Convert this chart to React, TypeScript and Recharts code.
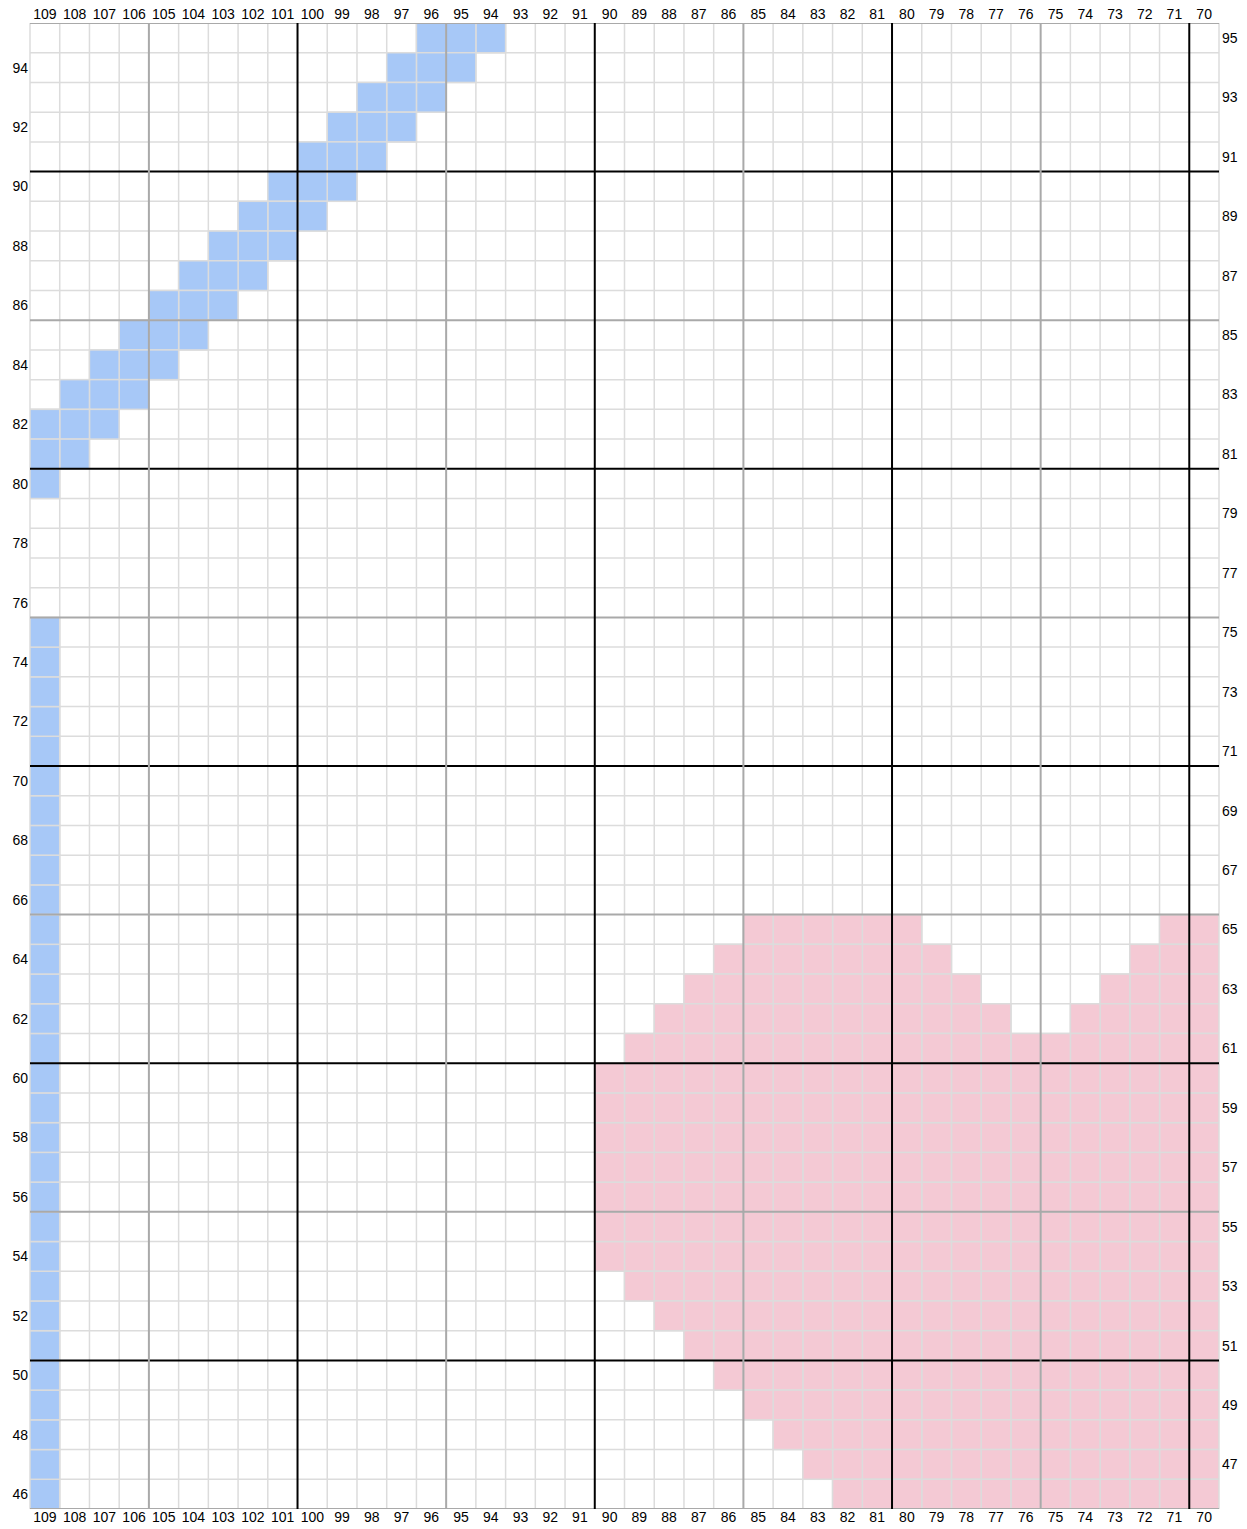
import React from 'react';
import { ScatterChart, Scatter, XAxis, YAxis, ReferenceLine } from 'recharts';

const BLUE = '#a7c8f7';
const PINK = '#f4c9d4';
const LIGHT = '#dcdcdc';
const MID = '#a9a9a9';
const DARK = '#000000';

const W = 1247;
const H = 1529;
const LEFT = 30;
const RIGHT = 28;
const TOP = 23;
const BOTTOM = 20;

const columns = [109, 108, 107, 106, 105, 104, 103, 102, 101, 100, 99, 98, 97, 96, 95, 94, 93, 92, 91, 90, 89, 88, 87, 86, 85, 84, 83, 82, 81, 80, 79, 78, 77, 76, 75, 74, 73, 72, 71, 70];
const evenRows = [94, 92, 90, 88, 86, 84, 82, 80, 78, 76, 74, 72, 70, 68, 66, 64, 62, 60, 58, 56, 54, 52, 50, 48, 46];
const oddRows = [95, 93, 91, 89, 87, 85, 83, 81, 79, 77, 75, 73, 71, 69, 67, 65, 63, 61, 59, 57, 55, 53, 51, 49, 47];

// [rowFrom, rowTo, colFrom, colTo]
const blueBlocks = [
  [95, 95, 96, 94], [94, 94, 97, 95], [93, 93, 98, 96], [92, 92, 99, 97],
  [91, 91, 100, 98], [90, 90, 101, 99], [89, 89, 102, 100], [88, 88, 103, 101],
  [87, 87, 104, 102], [86, 86, 105, 103], [85, 85, 106, 104], [84, 84, 107, 105],
  [83, 83, 108, 106], [82, 82, 109, 107], [81, 81, 109, 108], [80, 80, 109, 109],
  [75, 46, 109, 109],
];

const pinkBlocks = [
  [65, 65, 85, 80], [65, 65, 71, 70],
  [64, 64, 86, 79], [64, 64, 72, 70],
  [63, 63, 87, 78], [63, 63, 73, 70],
  [62, 62, 88, 77], [62, 62, 74, 70],
  [61, 61, 89, 70],
  [60, 54, 90, 70],
  [53, 53, 89, 70], [52, 52, 88, 70], [51, 51, 87, 70], [50, 50, 86, 70],
  [49, 49, 85, 70], [48, 48, 84, 70], [47, 47, 83, 70], [46, 46, 82, 70],
];

const toCells = (blocks: number[][]) => {
  const out: { col: number; row: number }[] = [];
  blocks.forEach(([r1, r2, c1, c2]) => {
    for (let r = r2; r <= r1; r++) {
      for (let c = c2; c <= c1; c++) out.push({ col: c, row: r });
    }
  });
  return out;
};

const blueCells = toCells(blueBlocks);
const pinkCells = toCells(pinkBlocks);

const CW = (W - LEFT - RIGHT) / columns.length;
const CH = (H - TOP - BOTTOM) / 50;

const cellShape = (fill: string) => (props: any) => {
  const { cx, cy } = props;
  return <rect x={cx - CW / 2} y={cy - CH / 2} width={CW} height={CH} fill={fill} stroke={LIGHT} strokeWidth={1.5} />;
};

// grid boundaries sit halfway between cells
const vLines = [110, ...columns].map((c) => c - 0.5);
const hLines = [96, ...evenRows, ...oddRows].map((r) => r - 0.5);

const lineStyle = (v: number) => {
  const k = Math.round(v - 0.5);
  if (k % 10 === 0) return { stroke: DARK, w: 2 };
  if (k % 5 === 0) return { stroke: MID, w: 2 };
  return { stroke: LIGHT, w: 1.5 };
};

// heavy lines are drawn as a scatter on top of the cells
const heavyV = vLines.filter((x) => lineStyle(x).stroke !== LIGHT).map((x) => ({ col: x, row: 70 }));
const heavyH = hLines.filter((y) => lineStyle(y).stroke !== LIGHT).map((y) => ({ col: 90, row: y }));

const vLineShape = (props: any) => {
  const { cx, payload } = props;
  const s = lineStyle(payload.col);
  return <line x1={cx} x2={cx} y1={TOP} y2={H - BOTTOM} stroke={s.stroke} strokeWidth={s.w} />;
};
const hLineShape = (props: any) => {
  const { cy, payload } = props;
  const s = lineStyle(payload.row);
  return <line x1={LEFT} x2={W - RIGHT} y1={cy} y2={cy} stroke={s.stroke} strokeWidth={s.w} />;
};

const tick = { fill: '#000', fontSize: 14, fontFamily: 'Liberation Sans, Arial, sans-serif' };

export default function App() {
  return (
    <div style={{ position: 'absolute', left: 0, top: 0, background: '#fff' }}>
      <ScatterChart width={W} height={H} margin={{ top: 0, right: 0, bottom: 0, left: 0 }}>
        <XAxis xAxisId="top" orientation="top" type="number" dataKey="col" domain={[69.5, 109.5]} reversed
          ticks={columns} interval={0} height={TOP} axisLine={false} tickLine={false} tickSize={0} tickMargin={4} tick={tick} allowDataOverflow />
        <XAxis xAxisId="bottom" orientation="bottom" type="number" dataKey="col" domain={[69.5, 109.5]} reversed
          ticks={columns} interval={0} height={BOTTOM} axisLine={false} tickLine={false} tickSize={0} tickMargin={3} tick={tick} allowDataOverflow />
        <YAxis yAxisId="left" type="number" dataKey="row" domain={[45.5, 95.5]} ticks={evenRows} interval={0}
          width={LEFT} axisLine={false} tickLine={false} tickSize={0} tickMargin={2} tick={tick} allowDataOverflow />
        <YAxis yAxisId="right" orientation="right" type="number" dataKey="row" domain={[45.5, 95.5]} ticks={oddRows} interval={0}
          width={RIGHT} axisLine={false} tickLine={false} tickSize={0} tickMargin={3} tick={tick} allowDataOverflow />
        {vLines.filter((x) => lineStyle(x).stroke === LIGHT).map((x) => (
          <ReferenceLine key={'v' + x} xAxisId="top" yAxisId="left" x={x} stroke={LIGHT} strokeWidth={1.5} ifOverflow="visible" />
        ))}
        {hLines.filter((y) => lineStyle(y).stroke === LIGHT).map((y) => (
          <ReferenceLine key={'h' + y} xAxisId="top" yAxisId="left" y={y} stroke={LIGHT} strokeWidth={1.5} ifOverflow="visible" />
        ))}
        <Scatter data={blueCells} xAxisId="top" yAxisId="left" shape={cellShape(BLUE)} isAnimationActive={false} />
        <Scatter data={pinkCells} xAxisId="top" yAxisId="left" shape={cellShape(PINK)} isAnimationActive={false} />
        <Scatter data={heavyH} xAxisId="top" yAxisId="left" shape={hLineShape} isAnimationActive={false} />
        <Scatter data={heavyV} xAxisId="top" yAxisId="left" shape={vLineShape} isAnimationActive={false} />
      </ScatterChart>
    </div>
  );
}
